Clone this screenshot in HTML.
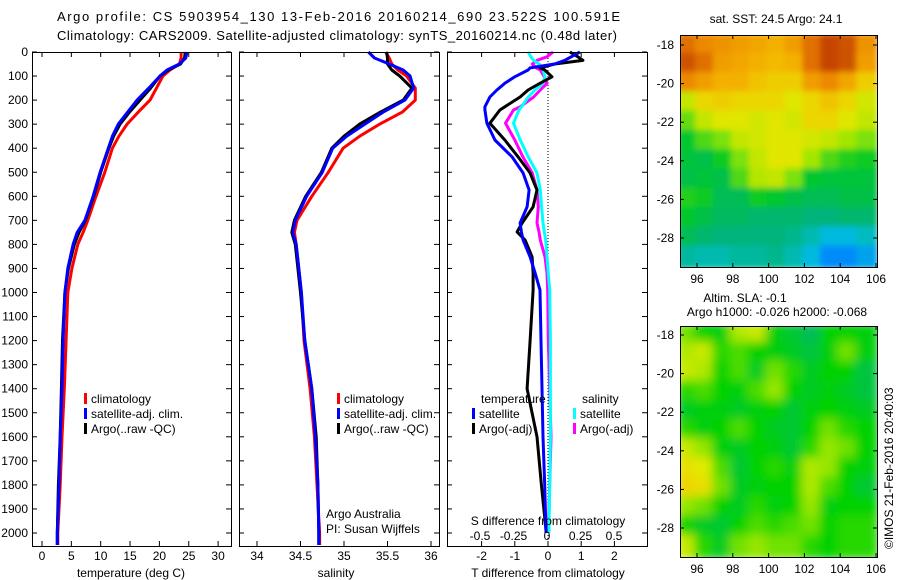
<!DOCTYPE html>
<html><head><meta charset="utf-8"><style>
html,body{margin:0;padding:0;background:#fff;}
svg{display:block;font-family:"Liberation Sans",sans-serif;font-size:12px;}
</style></head><body>
<svg id="fig" width="900" height="580" viewBox="0 0 900 580">
<defs>
<filter id="blurS" x="-5%" y="-5%" width="110%" height="110%"><feGaussianBlur stdDeviation="3"/></filter>
<filter id="blurL" x="-5%" y="-5%" width="110%" height="110%"><feGaussianBlur stdDeviation="5"/></filter>
<clipPath id="clipTop"><rect x="680" y="35" width="197" height="232"/></clipPath>
<clipPath id="clipBot"><rect x="680" y="326" width="197" height="231"/></clipPath>
</defs>
<text x="57" y="21" font-size="13" textLength="563">Argo profile: CS 5903954_130 13-Feb-2016 20160214_690 23.522S 100.591E</text>
<text x="57" y="40" font-size="13" textLength="560">Climatology: CARS2009. Satellite-adjusted climatology: synTS_20160214.nc (0.48d later)</text>
<g id="g"></g>
</svg>
<script>
// ---------- data ----------
const profileDepths=[0,25,50,75,100,150,200,250,300,350,400,500,600,700,750,800,900,1000,1200,1400,1600,1800,2000,2050];
const tempClim=[23.7,23.7,23.4,21.8,20.6,19.5,18.4,16.4,14.5,13.1,12.0,10.7,9.2,7.8,7.0,6.1,5.1,4.4,4.1,3.8,3.4,3.1,2.7,2.7];
const tempSat=[24.7,24.5,23.4,21.3,20.1,18.2,16.2,14.6,13.0,12.0,11.3,9.9,8.7,7.3,6.0,5.3,4.4,3.9,3.6,3.4,3.1,2.9,2.6,2.6];
const tempArgo=[24.4,24.3,23.6,21.5,20.1,18.5,16.7,14.9,13.3,12.2,11.4,10.0,8.8,7.4,6.3,5.5,4.5,3.9,3.5,3.3,3.1,2.8,2.6,2.6];
const salClim=[35.48,35.52,35.55,35.62,35.72,35.82,35.82,35.67,35.41,35.18,34.99,34.82,34.63,34.46,34.43,34.45,34.48,34.51,34.54,34.61,34.66,34.69,34.72,34.72];
const salSat=[35.28,35.35,35.52,35.68,35.76,35.80,35.70,35.45,35.24,35.03,34.87,34.75,34.57,34.44,34.41,34.45,34.48,34.51,34.55,34.63,34.67,34.70,34.71,34.71];
const salArgo=[35.49,35.50,35.50,35.55,35.64,35.78,35.68,35.42,35.18,35.00,34.86,34.74,34.56,34.43,34.40,34.44,34.47,34.50,34.55,34.63,34.68,34.70,34.71,34.71];
const diffDepths=[0,20,35,50,66,75,103,130,158,187,228,241,296,366,436,503,574,644,711,748,782,852,919,990,1200,1400,1600,1800,2000];
const tDiffSat=[0.96,0.7,0.5,0.2,-0.54,-0.6,-1.0,-1.3,-1.54,-1.75,-1.9,-1.9,-1.84,-1.6,-1.08,-0.75,-0.57,-0.63,-0.84,-0.8,-0.75,-0.54,-0.39,-0.24,-0.21,-0.18,-0.15,-0.1,-0.06];
const tDiffArgo=[0.66,0.9,1.05,0.2,-0.24,-0.1,0.12,-0.24,-0.6,-0.84,-1.3,-1.45,-1.75,-1.3,-0.9,-0.54,-0.33,-0.45,-0.78,-0.93,-0.69,-0.48,-0.45,-0.45,-0.54,-0.63,-0.33,-0.2,-0.05];
const sDiffSat=[-0.14,-0.12,-0.1,-0.06,-0.03,-0.03,-0.015,-0.03,-0.09,-0.14,-0.19,-0.21,-0.25,-0.2,-0.14,-0.075,-0.05,-0.04,-0.03,-0.02,-0.01,0.0,0.01,0.02,0.025,0.025,0.025,0.02,0.015];
const sDiffArgo=[0.045,0.0,-0.075,-0.11,-0.08,-0.05,-0.02,0.0,-0.05,-0.1,-0.2,-0.25,-0.31,-0.24,-0.18,-0.11,-0.075,-0.065,-0.075,-0.06,-0.05,-0.015,0.0,0.005,0.01,0.02,0.03,0.02,0.01];
const depthTicks=[0,100,200,300,400,500,600,700,800,900,1000,1100,1200,1300,1400,1500,1600,1700,1800,1900,2000];
const tempTicks=[0,5,10,15,20,25,30];
const salTicks=[34,34.5,35,35.5,36];
const salTickLabels=["34","34.5","35","35.5","36"];
const tDiffTicks=[-2,-1,0,1,2];
const sDiffTicks=[-0.5,-0.25,0,0.25,0.5];
const sDiffTickLabels=["-0.5","-0.25","0","0.25","0.5"];
const mapLons=[95,96,97,98,99,100,101,102,103,104,105];
const mapLats=[-18,-19,-20,-21,-22,-23,-24,-25,-26,-27,-28,-29];
const lonTicks=[96,98,100,102,104,106];
const latTicks=[-18,-20,-22,-24,-26,-28];
const sstGrid=[
[26.2,26.0,25.9,25.8,25.7,25.6,25.8,26.2,26.5,26.4,25.9],
[26.4,26.2,25.8,25.7,25.6,25.5,25.6,26.2,26.5,26.4,25.8],
[26.0,25.8,25.6,25.6,25.4,25.3,25.3,25.8,26.0,25.7,25.3],
[24.8,25.2,25.3,25.2,25.2,25.2,25.0,25.2,25.4,25.2,24.9],
[24.3,24.8,25.0,25.0,24.9,25.0,24.9,25.2,25.2,25.0,24.8],
[23.8,24.2,24.4,24.8,24.9,25.0,25.0,24.9,24.8,24.6,24.4],
[23.7,23.6,23.9,24.4,24.8,25.0,25.0,24.6,24.2,24.0,23.9],
[23.6,23.7,23.6,24.2,24.7,24.8,24.4,23.8,23.7,23.7,23.7],
[24.0,23.9,23.5,23.5,23.9,23.8,23.6,23.5,23.5,23.6,23.6],
[23.8,23.6,23.4,23.4,23.3,23.3,23.3,23.2,23.2,23.3,23.3],
[23.5,23.3,23.2,23.2,23.2,23.2,23.1,22.9,22.6,22.6,22.8],
[23.0,22.9,22.9,23.0,23.0,23.1,22.9,22.6,22.2,22.2,22.4]];
const slaGrid=[
[0.3,0.0,-0.1,0.5,0.6,-0.1,-0.3,-0.6,0.0,0.0,-0.1],
[0.5,0.6,0.1,0.2,0.0,-0.1,-0.2,-0.4,-0.1,0.3,-0.1],
[0.6,0.5,0.0,0.2,-0.2,0.3,0.1,-0.2,0.0,0.0,-0.4],
[0.1,0.2,0.0,-0.1,0.2,0.4,0.0,-0.2,-0.1,-0.2,-0.4],
[-0.2,-0.1,-0.1,-0.2,-0.1,0.0,-0.3,-0.1,0.0,-0.1,-0.2],
[0.1,-0.1,0.0,0.2,0.0,-0.2,-0.3,0.0,0.3,0.1,0.0],
[0.6,0.4,-0.1,-0.2,0.0,-0.1,-0.3,0.1,0.4,0.3,0.0],
[0.8,0.7,0.2,-0.3,0.0,0.1,-0.1,0.5,0.4,0.0,-0.1],
[0.9,0.8,0.3,-0.2,-0.1,0.0,0.0,0.5,0.2,0.0,-0.3],
[0.4,0.3,0.0,-0.2,0.1,-0.1,0.0,0.4,-0.1,0.0,0.0],
[0.0,-0.2,-0.3,0.0,0.2,0.1,0.2,0.3,0.0,0.1,0.1],
[0.6,0.1,-0.2,0.3,0.4,0.3,0.3,0.1,0.0,0.1,0.1]];

// ---------- scales ----------
const yD=d=>52+d*0.2405;
const xT=t=>42+t*5.87;
const xS=s=>257+(s-34)*87;
const xTd=v=>548+v*33.2;
const xSd=v=>547+v*134;
const mxTop=lon=>697+(lon-96)*17.9;
const myTop=lat=>45+(-18-lat)*19.3;
const myBot=lat=>335+(-18-lat)*19.3;

const NS="http://www.w3.org/2000/svg";
const root=document.getElementById('g');
function mk(tag,attrs,parent,text){
  const e=document.createElementNS(NS,tag);
  for(const k in attrs) e.setAttribute(k,attrs[k]);
  if(text!==undefined) e.textContent=text;
  (parent||root).appendChild(e);
  return e;
}
function line(vals,depths,xf,color,name,parent){
  const pts=vals.map((v,i)=>xf(v).toFixed(1)+","+yD(depths[i]).toFixed(1)).join(" ");
  const p=mk('polyline',{points:pts,fill:'none',stroke:color,'stroke-width':3,'stroke-linejoin':'round'},parent);
  
  
}
function txt(x,y,s,name,anchor,parent){
  const t=mk('text',{x:x,y:y,'text-anchor':anchor||'start'},parent,s);
  
  
  return t;
}
function frame(x,y,w,h,name){
  const r=mk('rect',{x:x,y:y,width:w,height:h,fill:'none',stroke:'#000','stroke-width':1});
  
  
}
function tk(x1,y1,x2,y2){mk('line',{x1:x1,y1:y1,x2:x2,y2:y2,stroke:'#000','stroke-width':1});}

const P1={l:32,r:231,t:52,b:546};
const P2={l:239,r:439,t:52,b:546};
const P3={l:447,r:647,t:52,b:546};
[P1,P2,P3].forEach(P=>{
  depthTicks.forEach(d=>{tk(P.l,yD(d),P.l+5,yD(d));tk(P.r,yD(d),P.r-5,yD(d));});
});
depthTicks.forEach(d=>{txt(28,yD(d)+4,String(d),'depth-tick-label','end');});
tempTicks.forEach(t=>{tk(xT(t),P1.b,xT(t),P1.b-5);tk(xT(t),P1.t,xT(t),P1.t+5);txt(xT(t),560,String(t),'temperature-tick-label','middle');});
line(tempClim,profileDepths,xT,'#ff0000','temperature-climatology-line');
line(tempArgo,profileDepths,xT,'#000000','temperature-argo-line');
line(tempSat,profileDepths,xT,'#0000ff','temperature-satellite-line');
frame(P1.l+0.5,P1.t+0.5,P1.r-P1.l,P1.b-P1.t,'temperature-panel');
txt(131,577,'temperature (deg C)','temperature-axis-title','middle');
function legend(x,y,items,nm){
  items.forEach((it,i)=>{
    const r=mk('rect',{x:x,y:y+i*15-10,width:3,height:11,fill:it[0]});
    
    
    txt(x+7,y+i*15,it[1],nm+'-label');
  });
}
legend(84,403,[['#ff0000','climatology'],['#0000ff','satellite-adj. clim.'],['#000000','Argo(..raw -QC)']],'temperature-legend-entry');

salTicks.forEach((s,i)=>{tk(xS(s),P2.b,xS(s),P2.b-5);tk(xS(s),P2.t,xS(s),P2.t+5);txt(xS(s),560,salTickLabels[i],'salinity-tick-label','middle');});
line(salClim,profileDepths,xS,'#ff0000','salinity-climatology-line');
line(salArgo,profileDepths,xS,'#000000','salinity-argo-line');
line(salSat,profileDepths,xS,'#0000ff','salinity-satellite-line');
frame(P2.l+0.5,P2.t+0.5,P2.r-P2.l,P2.b-P2.t,'salinity-panel');
txt(336,577,'salinity','salinity-axis-title','middle');
legend(337,403,[['#ff0000','climatology'],['#0000ff','satellite-adj. clim.'],['#000000','Argo(..raw -QC)']],'salinity-legend-entry');
txt(326,518,'Argo Australia','credit-argo-australia');
txt(326,533,'PI: Susan Wijffels','credit-pi');

mk('line',{x1:548,y1:P3.t,x2:548,y2:P3.b,stroke:'#000','stroke-width':1,'stroke-dasharray':'1,2'});
tDiffTicks.forEach(v=>{tk(xTd(v),P3.b,xTd(v),P3.b-5);tk(xTd(v),P3.t,xTd(v),P3.t+5);txt(xTd(v),560,String(v),'t-diff-tick-label','middle');});
line(sDiffArgo,diffDepths,xSd,'#ff00ff','salinity-diff-argo-line');
line(sDiffSat,diffDepths,xSd,'#00ffff','salinity-diff-satellite-line');
line(tDiffArgo,diffDepths,xTd,'#000000','temperature-diff-argo-line');
line(tDiffSat,diffDepths,xTd,'#0000ff','temperature-diff-satellite-line');
sDiffTicks.forEach((v,i)=>{txt(xSd(v),540,sDiffTickLabels[i],'s-diff-tick-label','middle');});
txt(548,525,'S difference from climatology','s-diff-axis-title','middle');
frame(P3.l+0.5,P3.t+0.5,P3.r-P3.l,P3.b-P3.t,'difference-panel');
txt(548,577,'T difference from climatology','t-diff-axis-title','middle');
txt(481,403,'temperature','diff-legend-temperature-heading');
txt(582,403,'salinity','diff-legend-salinity-heading');
legend(472,418,[['#0000ff','satellite'],['#000000','Argo(-adj)']],'diff-legend-temperature-entry');
legend(573,418,[['#00ffff','satellite'],['#ff00ff','Argo(-adj)']],'diff-legend-salinity-entry');

function lerpColor(stops,t){
  t=Math.max(0,Math.min(1,t));
  for(let i=1;i<stops.length;i++){
    if(t<=stops[i][0]){
      const a=stops[i-1],b=stops[i],f=(t-a[0])/(b[0]-a[0]||1);
      return 'rgb('+[1,2,3].map(k=>Math.round(a[k]+(b[k]-a[k])*f)).join(',')+')';
    }
  }
  const l=stops[stops.length-1];return 'rgb('+l[1]+','+l[2]+','+l[3]+')';
}
const sstStops=[[0,0,0,140],[0.12,0,130,255],[0.22,0,190,220],[0.33,0,180,120],[0.45,0,200,40],[0.58,150,230,0],[0.68,230,230,0],[0.78,245,180,0],[0.88,235,130,0],[1,180,40,0]];
const slaStops=[[0,0,170,140],[0.35,0,200,50],[0.5,0,210,0],[0.7,150,230,0],[0.85,225,235,0],[1,245,200,0]];
const gTop=mk('g',{'clip-path':'url(#clipTop)'});
const gTopIn=mk('g',{filter:'url(#blurS)'},gTop);
sstGrid.forEach((row,i)=>row.forEach((v,j)=>{
  const x0=mxTop(mapLons[j])-2,x1=mxTop(mapLons[j]+1)+2;
  const y0=myTop(mapLats[i]+0.5)-2,y1=myTop(mapLats[i]-0.5)+2;
  const r=mk('rect',{x:x0,y:y0,width:x1-x0,height:y1-y0,fill:lerpColor(sstStops,(v-21.5)/5.2)},gTopIn);
  
  
}));
const gBot=mk('g',{'clip-path':'url(#clipBot)'});
const gBotIn=mk('g',{filter:'url(#blurL)'},gBot);
slaGrid.forEach((row,i)=>row.forEach((v,j)=>{
  const x0=mxTop(mapLons[j])-3,x1=mxTop(mapLons[j]+1)+3;
  const y0=myBot(mapLats[i]+0.5)-3,y1=myBot(mapLats[i]-0.5)+3;
  const r=mk('rect',{x:x0,y:y0,width:x1-x0,height:y1-y0,fill:lerpColor(slaStops,(v+1)/2)},gBotIn);
  
  
}));
function mapAxes(t,b,myf,nm){
  frame(680.5,t+0.5,197,b-t,nm);
  lonTicks.forEach(l=>{const x=mxTop(l);tk(x,b,x,b-4);tk(x,t,x,t+4);txt(x,b+16,String(l),nm+'-lon-tick-label','middle');});
  latTicks.forEach(l=>{const y=myf(l);tk(680,y,684,y);tk(877,y,873,y);txt(674,y+4,String(l),nm+'-lat-tick-label','end');});
}
mapAxes(35,267,myTop,'sst-map');
mapAxes(326,557,myBot,'sla-map');
txt(776,23,'sat. SST: 24.5 Argo: 24.1','sst-map-title','middle');
txt(745,302,'Altim. SLA: -0.1','sla-map-title','middle');
txt(777,316,'Argo h1000: -0.026 h2000: -0.068','sla-map-subtitle','middle');
const cr=txt(0,0,'©IMOS 21-Feb-2016 20:40:03','copyright-timestamp','start');
cr.setAttribute('transform','translate(893,549) rotate(-90)');
</script>
</body></html>
